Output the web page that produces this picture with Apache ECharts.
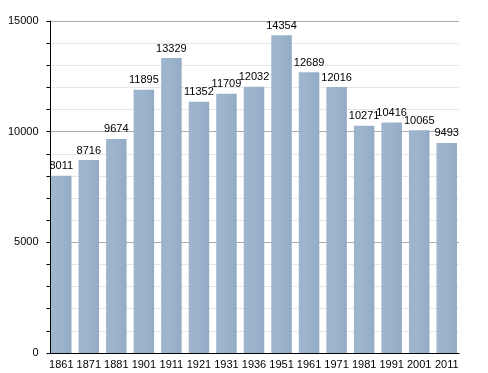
<!DOCTYPE html>
<html>
<head>
<meta charset="utf-8">
<script src="https://cdn.jsdelivr.net/npm/echarts@6/dist/echarts.min.js"></script>
<style>
html,body{margin:0;padding:0;background:#fff;}
#chart{width:488px;height:373px;}
</style>
</head>
<body>
<div id="chart"></div>
<script>
const years = ['1861','1871','1881','1901','1911','1921','1931','1936','1951','1961','1971','1981','1991','2001','2011'];
const population = [8011, 8716, 9674, 11895, 13329, 11352, 11709, 12032, 14354, 12689, 12016, 10271, 10416, 10065, 9493];
const yTicks = [0, 5000, 10000, 15000];

const font = 'Liberation Sans, Arial, sans-serif';
const yMin = yTicks[0], yMax = yTicks[yTicks.length - 1];
const chart = echarts.init(document.getElementById('chart'), null, {renderer: 'canvas'});
chart.setOption({
  animation: false,
  backgroundColor: '#fff',
  grid: [
    {left: 50.5, right: 29, top: 21, bottom: 20},
    {left: 47.5, right: 27.5, top: 21, bottom: 20}
  ],
  xAxis: [
    {gridIndex: 0, type: 'category', data: years, boundaryGap: true, zlevel: 2,
     axisLine: {lineStyle: {color: '#000', width: 1}}, axisTick: {show: false}, axisLabel: {show: false}, splitLine: {show: false}},
    {gridIndex: 1, type: 'category', data: years, boundaryGap: true,
     axisLine: {show: false}, axisTick: {show: false},
     axisLabel: {color: '#000', fontSize: 11, fontFamily: font, margin: 6, interval: 0}}
  ],
  yAxis: [
    {gridIndex: 0, type: 'value', min: yMin, max: yMax, interval: 5000, zlevel: 0, z: 0,
     axisLine: {show: false}, axisTick: {show: false}, axisLabel: {show: false},
     splitLine: {show: true, lineStyle: {color: '#ababab', width: 1}},
     minorTick: {show: false, splitNumber: 5},
     minorSplitLine: {show: true, lineStyle: {color: '#e6e6e6', width: 1}}},
    {gridIndex: 0, type: 'value', min: yMin, max: yMax, interval: 5000, zlevel: 2, position: 'left', offset: 0,
     axisLine: {show: true, lineStyle: {color: '#000', width: 1}},
     axisTick: {show: true, length: 4, inside: false, lineStyle: {color: '#000'}},
     minorTick: {show: true, splitNumber: 5, length: 4, lineStyle: {color: '#000'}},
     splitLine: {show: false},
     axisLabel: {color: '#000', fontSize: 11, fontFamily: font, margin: 12, formatter: v => String(v)}},
    {gridIndex: 1, type: 'value', min: yMin, max: yMax, show: false}
  ],
  series: [{
    type: 'bar',
    xAxisIndex: 1, yAxisIndex: 2,
    data: population,
    barWidth: 20.5,
    zlevel: 1,
    z: 3,
    itemStyle: {
      opacity: 1,
      color: new echarts.graphic.LinearGradient(0, 0, 1, 0, [
        {offset: 0, color: '#9fb5ce'},
        {offset: 0.5, color: '#9cb3cc'},
        {offset: 1, color: '#94abc6'}
      ])
    },
    label: {show: true, position: 'top', distance: 4, color: '#000', fontSize: 11, fontFamily: font}
  }]
});
</script>
</body>
</html>
